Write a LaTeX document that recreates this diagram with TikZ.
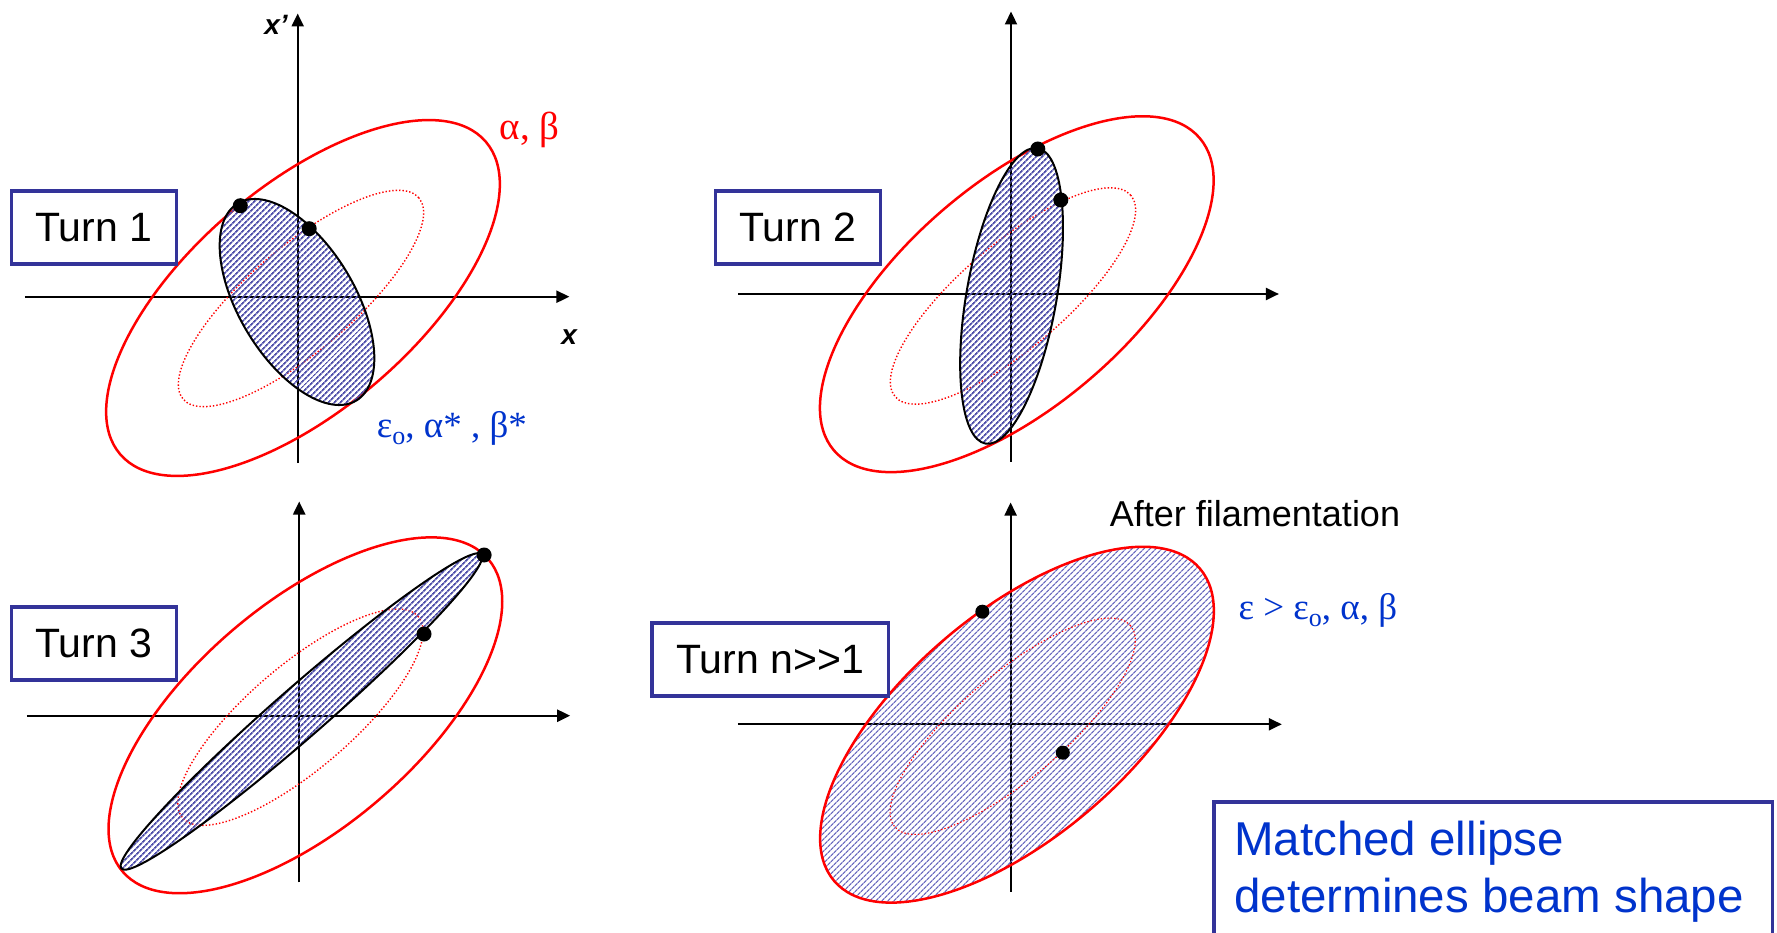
\documentclass[tikz,border=0pt]{standalone}
\usepackage{fontspec}
\setmainfont{Liberation Sans}
\newfontfamily\tms{Liberation Serif}
\usetikzlibrary{arrows.meta,patterns.meta}
\definecolor{boxblue}{RGB}{51,51,153}
\definecolor{txtblue}{RGB}{0,51,204}
\definecolor{hatch}{RGB}{80,80,170}
\definecolor{hatchlight}{RGB}{105,105,190}
\begin{document}
\begin{tikzpicture}[x=1pt,y=-1pt,
  axis/.style={line width=2.2pt, -{Triangle[length=13pt,width=12pt]}},
  outer/.style={draw=red, line width=2.5pt},
  inner/.style={draw=red, line width=1.4pt, dash pattern=on 1.4pt off 2pt},
  beam/.style={draw=black, line width=2pt, pattern={Lines[angle=45,distance=4pt,line width=1.8pt]}, pattern color=hatch},
  spread/.style={draw=red, line width=2.5pt, pattern={Lines[angle=45,distance=4pt,line width=1.3pt]}, pattern color=hatchlight},
  dot/.style={circle, fill=black, inner sep=0pt, minimum size=15pt},
  turnbox/.style={draw=boxblue, line width=3.5pt, fill=white, minimum height=73pt, font=\fontsize{41}{49}\selectfont, inner sep=0pt},
  axlab/.style={anchor=base, inner sep=0pt, font=\fontsize{28}{28}\selectfont\bfseries\itshape},
  greek/.style={anchor=base west, inner sep=0pt, font=\tms\fontsize{37}{37}\selectfont},
]
\useasboundingbox (0,0) rectangle (1777,933);
\clip (0,0) rectangle (1777,933);

% ---------------- Panel 1 ----------------
\coordinate (l1) at (24.9,296.7);
\coordinate (r1) at (569.4,296.7);
\coordinate (b1) at (297.7,463);
\coordinate (t1) at (297.7,13.5);
\draw[axis] (l1) -- (r1);
\draw[axis] (b1) -- (t1);
\coordinate (c1) at (303,298);
\coordinate (i1) at (301,298.5);
\coordinate (e1) at (297,302);
\draw[outer, rotate around={40.5:(c1)}] (c1) ellipse [x radius=240.5pt, y radius=112pt];
\draw[inner, rotate around={40.5:(i1)}] (i1) ellipse [x radius=155pt, y radius=52pt];
\draw[beam, rotate around={-59:(e1)}] (e1) ellipse [x radius=115pt, y radius=58pt];
\node[dot] (p1a) at (240.3,205.7) {};
\node[dot] (p1b) at (309.2,228.7) {};
\node[turnbox, minimum width=165pt] (turn1) at (93.8,227.4) {Turn 1};
\node[axlab] (xp) at (276,35) {x’};
\node[axlab] (xl) at (569.2,344) {x};
\node[greek, text=red, font=\tms\fontsize{39}{39}\selectfont] (ab) at (499.4,140) {α, β};
\node[greek, text=txtblue] (eab) at (376.7,437.3) {ε\raisebox{-7pt}{\fontsize{26}{26}\selectfont o}, α* , β*};

% ---------------- Panel 2 ----------------
\coordinate (l2) at (738.2,294);
\coordinate (r2) at (1278.9,294);
\coordinate (b2) at (1011,461.7);
\coordinate (t2) at (1011,11.5);
\draw[axis] (l2) -- (r2);
\draw[axis] (b2) -- (t2);
\coordinate (c2) at (1016.8,294.2);
\coordinate (i2) at (1013,296);
\coordinate (e2) at (1011.5,296);
\draw[outer, rotate around={40.5:(c2)}] (c2) ellipse [x radius=240.5pt, y radius=112pt];
\draw[inner, rotate around={40.5:(i2)}] (i2) ellipse [x radius=155pt, y radius=52pt];
\draw[beam, rotate around={80:(e2)}] (e2) ellipse [x radius=150pt, y radius=45pt];
\node[dot] (p2a) at (1037.8,149) {};
\node[dot] (p2b) at (1060.8,200) {};
\node[turnbox, minimum width=165pt] (turn2) at (797.9,227.4) {Turn 2};

% ---------------- Panel 3 ----------------
\coordinate (l3) at (26.8,715.7);
\coordinate (r3) at (570.2,715.7);
\coordinate (b3) at (299.2,882.3);
\coordinate (t3) at (299.2,501.5);
\draw[axis] (l3) -- (r3);
\draw[axis] (b3) -- (t3);
\coordinate (c3) at (305.4,715.3);
\coordinate (i3) at (300.4,717.2);
\coordinate (e3) at (301.5,711.5);
\draw[outer, rotate around={40.5:(c3)}] (c3) ellipse [x radius=240.5pt, y radius=112pt];
\draw[inner, rotate around={40.5:(i3)}] (i3) ellipse [x radius=155pt, y radius=52pt];
\draw[beam, rotate around={41.1:(e3)}] (e3) ellipse [x radius=239pt, y radius=25pt];
\node[dot] (p3a) at (484.1,555) {};
\node[dot] (p3b) at (424,634) {};
\node[turnbox, minimum width=165pt] (turn3) at (93.8,643.4) {Turn 3};

% ---------------- Panel 4 ----------------
\coordinate (l4) at (737.9,724.3);
\coordinate (r4) at (1281.8,724.3);
\coordinate (b4) at (1010.6,891.7);
\coordinate (t4) at (1010.6,502.5);
\draw[axis] (l4) -- (r4);
\draw[axis] (b4) -- (t4);
\coordinate (c4) at (1017,724.7);
\coordinate (i4) at (1012.7,726.3);
\draw[spread, rotate around={40.5:(c4)}] (c4) ellipse [x radius=240.5pt, y radius=112pt];
\draw[inner, line width=1.1pt, rotate around={40.5:(i4)}] (i4) ellipse [x radius=155pt, y radius=52pt];
\node[dot, minimum size=14pt] (p4a) at (982.3,611.7) {};
\node[dot, minimum size=14pt] (p4b) at (1062.8,752.7) {};
\node[turnbox, minimum width=236.5pt] (turn4) at (770.2,659.4) {Turn n{>}{>}1};
\node[anchor=base, inner sep=0pt, font=\fontsize{36}{36}\selectfont] (after) at (1255,526) {After filamentation};
\node[greek, text=txtblue] (egt) at (1238.3,619.3) {ε > ε\raisebox{-7pt}{\fontsize{26}{26}\selectfont o}, α, β};

% ---------------- Conclusion box ----------------
\node[draw=boxblue, line width=3.5pt, fill=white, anchor=north west, minimum width=558.5pt, minimum height=180pt, inner sep=0pt] (mbox) at (1212,800) {};
\node[anchor=base west, align=left, inner sep=0pt, text=txtblue, font=\fontsize{47.5}{56.7}\selectfont] (mtext) at (1234,912.5) {Matched ellipse\\determines beam shape};
\end{tikzpicture}
\end{document}
